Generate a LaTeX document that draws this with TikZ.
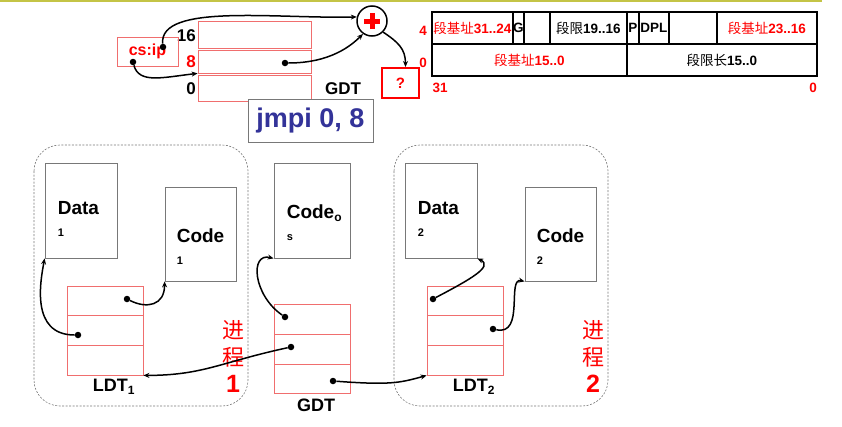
\documentclass[tikz,border=0pt]{standalone}
\usepackage{fontspec}
\setmainfont{Liberation Sans}
\newfontfamily\cjk{Noto Sans CJK SC}
\usetikzlibrary{arrows.meta}
\definecolor{tblred}{RGB}{240,110,110}
\definecolor{boxgray}{RGB}{120,120,120}
\definecolor{jmpblue}{RGB}{51,51,153}
\definecolor{topline}{RGB}{196,196,70}
\newcommand{\fs}[1]{\fontsize{#1}{#1}\selectfont\bfseries}
\tikzset{
	row/.style={draw=tblred, line width=0.8pt, minimum width=76, inner sep=0pt},
	seg/.style={draw=boxgray, line width=0.8pt, inner sep=0pt},
	segtext/.style={anchor=north west, align=left, inner sep=0pt, font=\fs{19}},
	cell/.style={draw, line width=1.6pt, inner sep=0pt, minimum height=32, font=\fs{13.5}},
	proc/.style={draw=boxgray, line width=0.6pt, dash pattern=on 2pt off 1.5pt, rounded corners=26pt},
	ptr/.style={-{Stealth[length=6pt,width=5pt]}, line width=1.5pt},
	dot/.style={circle, fill, inner sep=0pt, minimum size=6.5pt},
	lbl/.style={inner sep=0pt, font=\fs{17}},
}
\begin{document}
\begin{tikzpicture}[x=1pt, y=-1pt]
	\useasboundingbox (0,0) rectangle (842,426);
	\draw[topline, line width=2.5pt] (0,1) -- (822,1);
	% GDT at top, selector and adder
	\node[row, minimum width=113, minimum height=27] (gdtA1) at (254.5,34.5){};
	\node[row, minimum width=113, minimum height=23] (gdtA2) at (254.5,61.5){};
	\node[row, minimum width=113, minimum height=26] (gdtA3) at (254.5,88){};
	\node[lbl, anchor=east] (n16) at (196,36){16};
	\node[lbl, anchor=east, text=red] (n8) at (196,62){8};
	\node[lbl, anchor=east] (n0) at (196,89){0};
	\node[lbl] (gdtAlbl) at (343,89){GDT};
	\node[draw=tblred, line width=0.8pt, minimum width=61, minimum height=29, inner sep=0pt, text=red, font=\fs{16}] (csip) at (147.5,51.5){cs:ip};
	\node[draw=boxgray, fill=white, line width=0.8pt, minimum width=125, minimum height=43, inner sep=0pt, text=jmpblue, font=\fs{27}] (jmpi) at (310.5,120.5){jmpi 0, 8};
	\node[circle, draw, line width=1.5pt, minimum size=30, inner sep=0pt] (plus) at (372,21){};
	\draw[red, line width=5pt] ([xshift=-8pt]plus.center) -- ([xshift=8pt]plus.center);
	\draw[red, line width=5pt] ([yshift=-8pt]plus.center) -- ([yshift=8pt]plus.center);
	\node[draw=red, line width=2pt, minimum width=37, minimum height=30, inner sep=0pt, text=red, font=\fs{15}] (ques) at (400.5,83){?};
	\node[dot] (csdot1) at (163,47){};
	\node[dot] (csdot2) at (133,62){};
	\node[dot] (gdtAdot) at (285,63){};
	\draw[ptr] (csdot1) .. controls +(-4,-44) and +(-80,2) .. (plus.165);
	\draw[ptr] (csdot2) .. controls +(6,22) and +(-35,4) .. (gdtA2.south west);
	\draw[ptr] (gdtAdot) .. controls +(45,0) and +(-12,12) .. (plus.235);
	\draw[ptr] (plus.-45) .. controls +(15,10) and +(0,-18) .. ([xshift=5pt]ques.north);
	% descriptor format
	\node[cell, minimum width=81, anchor=west, text=red] (c1) at (431,28){{\cjk\mdseries 段基址}31..24};
	\node[cell, minimum width=11, anchor=west] (c2) at (512,28){G};
	\node[cell, minimum width=26, anchor=west] (c3) at (523,28){};
	\node[cell, minimum width=77, anchor=west] (c4) at (549,28){{\cjk\mdseries 段限}19..16};
	\node[cell, minimum width=12, anchor=west] (c5) at (626,28){P};
	\node[cell, minimum width=30, anchor=west] (c6) at (638,28){DPL};
	\node[cell, minimum width=48, anchor=west] (c7) at (668,28){};
	\node[cell, minimum width=100, anchor=west, text=red] (c8) at (716,28){{\cjk\mdseries 段基址}23..16};
	\node[cell, minimum width=195, anchor=west, text=red] (c9) at (431,60){{\cjk\mdseries 段基址}15..0};
	\node[cell, minimum width=190, anchor=west] (c10) at (626,60){{\cjk\mdseries 段限长}15..0};
	\node[lbl, font=\fs{13.5}, text=red] (b4) at (423,31){4};
	\node[lbl, font=\fs{13.5}, text=red] (b0) at (423,63){0};
	\node[lbl, font=\fs{13.5}, text=red] (b31) at (440,88){31};
	\node[lbl, font=\fs{13.5}, text=red] (b00) at (813,88){0};
	% process 1
	\draw[proc] (34,145) rectangle (248,406);
	\node[seg, minimum width=72, minimum height=95] (data1) at (81,210.5){};
	\node[segtext] (data1txt) at ([shift={(13,39)}]data1.north west){Data\\[3pt]{\fs{11}1}};
	\node[seg, minimum width=71, minimum height=94] (code1) at (200.5,234){};
	\node[segtext] (code1txt) at ([shift={(12,42)}]code1.north west){Code\\[3pt]{\fs{11}1}};
	\node[row, minimum height=29] (ldtA1) at (105,300.5){};
	\node[row, minimum height=30] (ldtA2) at (105,330){};
	\node[row, minimum height=30] (ldtA3) at (105,360){};
	\node[lbl, font=\fs{18}] (ldtAlbl) at (114,387){LDT\textsubscript{\fs{12}1}};
	\node[lbl, text=red, align=center, font=\fontsize{22}{27}\selectfont] (procA) at (233,356){{\cjk 进}\\{\cjk 程}\\{\fs{25}1}};
	% OS code and GDT
	\node[seg, minimum width=76, minimum height=95] (codeos) at (312,210.5){};
	\node[segtext] (codeostxt) at ([shift={(13,42)}]codeos.north west){Code\textsubscript{\fs{12}o}\\[3pt]{\fs{11}s}};
	\node[row, minimum height=30] (gdtB1) at (312,319){};
	\node[row, minimum height=30] (gdtB2) at (312,349){};
	\node[row, minimum height=29] (gdtB3) at (312,378.5){};
	\node[lbl, font=\fs{18}] (gdtBlbl) at (316,405){GDT};
	% process 2
	\draw[proc] (394,145) rectangle (608,406);
	\node[seg, minimum width=72, minimum height=95] (data2) at (441,210.5){};
	\node[segtext] (data2txt) at ([shift={(13,39)}]data2.north west){Data\\[3pt]{\fs{11}2}};
	\node[seg, minimum width=71, minimum height=94] (code2) at (560.5,234){};
	\node[segtext] (code2txt) at ([shift={(12,42)}]code2.north west){Code\\[3pt]{\fs{11}2}};
	\node[row, minimum height=29] (ldtB1) at (465,300.5){};
	\node[row, minimum height=30] (ldtB2) at (465,330){};
	\node[row, minimum height=30] (ldtB3) at (465,360){};
	\node[lbl, font=\fs{18}] (ldtBlbl) at (474,387){LDT\textsubscript{\fs{12}2}};
	\node[lbl, text=red, align=center, font=\fontsize{22}{27}\selectfont] (procB) at (593,356){{\cjk 进}\\{\cjk 程}\\{\fs{25}2}};
	% pointers
	\node[dot] (ldtAdot1) at (127,299){};
	\node[dot] (ldtAdot2) at (78,335){};
	\node[dot] (gdtBdot1) at (285,317){};
	\node[dot] (gdtBdot2) at (291,347){};
	\node[dot] (gdtBdot3) at (333,381){};
	\node[dot] (ldtBdot1) at (433,299){};
	\node[dot] (ldtBdot2) at (493,329){};
	\draw[ptr] (ldtAdot2) .. controls +(-48,0) and +(-4,22) .. (data1.south west);
	\draw[ptr] (ldtAdot1) .. controls +(20,10) and +(0,24) .. (code1.south west);
	\draw[ptr] (gdtBdot1) .. controls +(-32,-22) and +(-24,-6) .. (codeos.south west);
	\draw[ptr] (gdtBdot2) .. controls +(-70,15) and +(60,0) .. (ldtA3.south east);
	\draw[ptr] (gdtBdot3) .. controls +(55,4) and +(-28,8) .. (ldtB3.south west);
	\draw[ptr] (ldtBdot1) .. controls +(38,-20) and +(16,8) .. (data2.south east);
	\draw[ptr] (ldtBdot2) .. controls +(32,7) and +(-18,-4) .. (code2.south west);
\end{tikzpicture}
\end{document}
